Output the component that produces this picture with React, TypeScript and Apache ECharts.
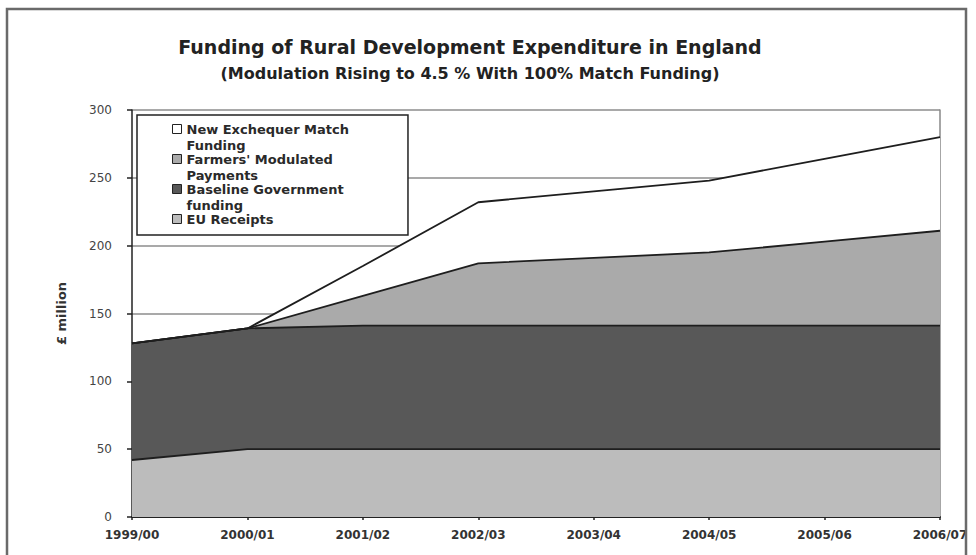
import { useEffect, useRef } from "react";
import * as echarts from "echarts";

const categories = ["1999/00", "2000/01", "2001/02", "2002/03", "2003/04", "2004/05", "2005/06", "2006/07"];
const euReceipts = [42, 50, 50, 50, 50, 50, 50, 50];
const baselineGov = [86, 89, 91, 91, 91, 91, 91, 91];
const farmersModulated = [0, 0, 22, 46, 50, 54, 62, 70];
const exchequerMatch = [0, 0, 22, 45, 49, 53, 61, 69];
const yMin = 0;
const yMax = 300;
const yInterval = 50;

const nameEU = "EU Receipts";
const nameBase = "Baseline Government funding";
const nameFarm = "Farmers' Modulated Payments";
const nameExch = "New Exchequer Match Funding";

const legendLabels: Record<string, string> = {
  [nameExch]: "\nNew Exchequer Match\nFunding",
  [nameFarm]: "\nFarmers' Modulated\nPayments",
  [nameBase]: "\nBaseline Government\nfunding",
  [nameEU]: "\nEU Receipts\n",
};

const titleMain = "Funding of Rural Development Expenditure in England";
const titleSub = "(Modulation Rising to 4.5 % With 100% Match Funding)";

export default function App() {
  const ref = useRef<HTMLDivElement>(null);
  useEffect(() => {
    if (!ref.current) return;
    const chart = echarts.init(ref.current, undefined, { renderer: "svg" });
    const font = "DejaVu Sans";
    const mkSeries = (name: string, data: number[], fill: string) => ({
      name,
      type: "line",
      stack: "total",
      data,
      showSymbol: false,
      symbol: "none",
      itemStyle: { color: fill },
      lineStyle: { color: "#1e1e1e", width: 1.8 },
      areaStyle: { color: fill, opacity: 1 },
      emphasis: { disabled: true },
    });
    chart.setOption({
      animation: false,
      backgroundColor: "#fff",
      title: {
        text: titleMain,
        subtext: titleSub,
        left: 470,
        top: 36,
        padding: 0,
        itemGap: 5,
        textAlign: "center",
        textStyle: { fontFamily: font, fontSize: 19, fontWeight: "bold", color: "#222", lineHeight: 22 },
        subtextStyle: { fontFamily: font, fontSize: 16, fontWeight: "bold", color: "#222", lineHeight: 20 },
      },
      legend: {
        orient: "vertical",
        left: 137,
        top: 115,
        data: [nameExch, nameFarm, nameBase, nameEU],
        icon: "rect",
        itemWidth: 9,
        itemHeight: 9,
        itemGap: -18,
        selectedMode: false,
        padding: [-10, 59, -8, 35],
        backgroundColor: "#fff",
        borderColor: "#222",
        borderWidth: 1.5,
        formatter: (n: string) => legendLabels[n] ?? n,
        itemStyle: { borderColor: "#222", borderWidth: 1 },
        textStyle: {
          fontFamily: font,
          fontSize: 13,
          fontWeight: "bold",
          color: "#2a2a2a",
          lineHeight: 16,
        },
      },
      grid: { left: 132, right: 36, top: 110, bottom: 38, containLabel: false },
      xAxis: {
        type: "category",
        data: categories,
        boundaryGap: false,
        axisLine: { show: true, lineStyle: { color: "#222", width: 1.8 } },
        axisTick: { show: true, length: 3, lineStyle: { color: "#222", width: 1.5 } },
        axisLabel: { margin: 12, fontFamily: font, fontSize: 12, fontWeight: "bold", color: "#333" },
        splitLine: { show: false },
      },
      yAxis: [
        {
          type: "value",
          min: yMin,
          max: yMax,
          interval: yInterval,
          name: "£ million",
          nameLocation: "middle",
          nameRotate: 90,
          nameGap: 64,
          nameTextStyle: { fontFamily: font, fontSize: 13, fontWeight: "bold", color: "#333" },
          axisLine: { show: true, lineStyle: { color: "#222", width: 1.5 } },
          axisTick: { show: true, length: 5, lineStyle: { color: "#222", width: 1.5 } },
          axisLabel: { margin: 20, fontFamily: font, fontSize: 12, color: "#444" },
          splitLine: { show: true, lineStyle: { color: "#8c8c8c", width: 1.5 } },
        },
        {
          type: "value",
          position: "right",
          min: yMin,
          max: yMax,
          interval: yInterval,
          axisLine: { show: true, lineStyle: { color: "#888", width: 1.5 } },
          axisTick: { show: false },
          axisLabel: { show: false },
          splitLine: { show: false },
        },
      ],
      series: [
        mkSeries(nameEU, euReceipts, "#bcbcbc"),
        mkSeries(nameBase, baselineGov, "#585858"),
        mkSeries(nameFarm, farmersModulated, "#aaaaaa"),
        mkSeries(nameExch, exchequerMatch, "#ffffff"),
      ],
      graphic: [
        {
          type: "rect",
          silent: true,
          z: 100,
          shape: { x: 7, y: 9, width: 959, height: 560 },
          style: { fill: "none", stroke: "#6a6a6a", lineWidth: 2.5 },
        },
      ],
    });
    return () => chart.dispose();
  }, []);
  return (
    <div
      ref={ref}
      style={{ position: "fixed", left: 0, top: 0, width: 976, height: 555 }}
    />
  );
}
